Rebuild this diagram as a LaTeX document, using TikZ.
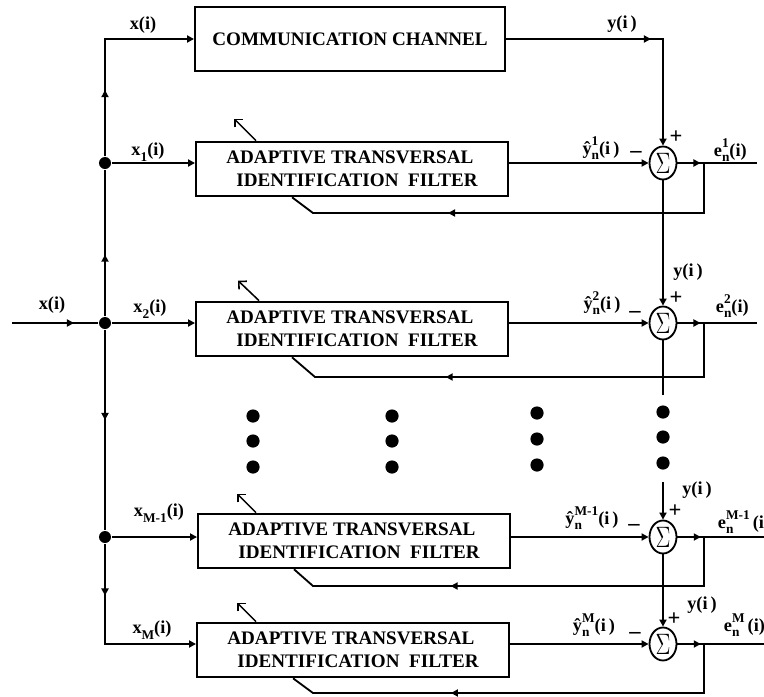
\documentclass[tikz,border=0pt]{standalone}
\usepackage{fontspec}
\setmainfont{Liberation Serif}
\usepackage{graphicx}
\usepackage{tikz}
\usetikzlibrary{arrows.meta,positioning,shapes.geometric,calc,decorations.markings}

% small indices, raised or lowered
\newcommand{\idxup}[1]{\raisebox{0.5em}{\fontsize{9.5}{10}\selectfont #1}}
\newcommand{\idxdn}[1]{\raisebox{-0.3em}{\fontsize{9.5}{10}\selectfont #1}}
% superscript over subscript, stacked
\newcommand{\supsub}[2]{%
  \setbox0=\hbox{\idxup{#1}}\setbox2=\hbox{\idxdn{#2}}%
  \ifdim\wd0>\wd2 \rlap{\copy2}\copy0 \else\rlap{\copy0}\copy2 \fi}
\newcommand{\sumsym}{\scalebox{1.25}[1.75]{$\Sigma$}}

\begin{document}
\begin{tikzpicture}[
    x=0.025cm, y=-0.025cm,
    line width=1.3pt,
    font=\fontsize{13}{15}\selectfont\bfseries,
    chanbox/.style={draw,minimum width=7.75cm,minimum height=1.6cm,
                    font=\fontsize{13.6}{16.4}\selectfont\bfseries},
    filt/.style={draw,minimum width=7.8cm,minimum height=1.37cm,align=left,
                 font=\fontsize{13.6}{16.4}\selectfont\bfseries},
    sumnode/.style={draw,ellipse,inner sep=0pt,minimum width=0.675cm,
                    minimum height=0.825cm},
    junc/.style={circle,fill,inner sep=0pt,minimum size=0.3cm},
    bigdot/.style={circle,fill,inner sep=0pt,minimum size=0.33cm},
    sign/.style={font=\fontsize{16}{16}\selectfont\bfseries,inner sep=0pt},
    arr/.style={-{Triangle[length=5pt,width=5pt]}},
    midarr/.style={postaction={decorate},decoration={markings,
        mark=at position #1 with {\arrow{Triangle[length=5pt,width=5pt]}}}},
    adapt/.style={line width=1.1pt,-{Straight Barb[length=4pt,width=8pt]}},
  ]
  \useasboundingbox (0,0) rectangle (764,697);

  % blocks
  \node[chanbox] (chan) at (350,39) {COMMUNICATION CHANNEL};
  \node[filt] (f1) at (352,169) {ADAPTIVE TRANSVERSAL\\\hspace*{0.25cm}IDENTIFICATION\ \ FILTER};
  \node[filt] (f2) at (352,329) {ADAPTIVE TRANSVERSAL\\\hspace*{0.25cm}IDENTIFICATION\ \ FILTER};
  \node[filt] (f3) at (354,541) {ADAPTIVE TRANSVERSAL\\\hspace*{0.25cm}IDENTIFICATION\ \ FILTER};
  \node[filt] (f4) at (353,650) {ADAPTIVE TRANSVERSAL\\\hspace*{0.25cm}IDENTIFICATION\ \ FILTER};

  \node[sumnode] (s1) at (663,163) {\sumsym};
  \node[sumnode] (s2) at (663,323) {\sumsym};
  \node[sumnode] (s3) at (663,537) {\sumsym};
  \node[sumnode] (s4) at (663,644) {\sumsym};

  % input bus
  \node[junc] (j1) at (105,163) {};
  \node[junc] (j2) at (105,323) {};
  \node[junc] (j3) at (105,537) {};
  \coordinate (top) at (105,39);
  \coordinate (bot) at (105,644);
  \coordinate (in) at (12,323);

  \draw[midarr=0.72] (in) -- (j2);
  \draw[midarr=0.42] (j2) -- (j1);
  \draw[midarr=0.32,arr] (j1) -- (top) -- (chan.west);
  \draw[midarr=0.45] (j2) -- (j3);
  \draw[midarr=0.27,arr] (j3) -- (bot) -- (f4.west |- bot);
  \draw[arr] (j1) -- (j1 -| f1.west);
  \draw[arr] (j2) -- (j2 -| f2.west);
  \draw[arr] (j3) -- (j3 -| f3.west);

  % desired signal
  \draw[midarr=0.55,arr] (chan.east) -| (s1.north);
  \draw[arr] (s1.south) -- (s2.north);
  \coordinate (d2) at (663,395);
  \coordinate (d3) at (663,482);
  \draw (s2.south) -- (d2);
  \draw[arr] (d3) -- (s3.north);
  \draw[arr] (s3.south) -- (s4.north);

  % filter outputs
  \draw[arr] (s1 -| f1.east) -- (s1.west);
  \draw[arr] (s2 -| f2.east) -- (s2.west);
  \draw[arr] (s3 -| f3.east) -- (s3.west);
  \draw[arr] (s4 -| f4.east) -- (s4.west);

  % errors and feedback
  \coordinate (o1) at (757,163);  \coordinate (b1) at (704,163);
  \coordinate (o2) at (757,323);  \coordinate (b2) at (704,323);
  \coordinate (o3) at (764,537);  \coordinate (b3) at (704,537);
  \coordinate (o4) at (764,644);  \coordinate (b4) at (704,644);
  \draw[midarr=0.29] (s1.east) -- (o1);
  \draw[midarr=0.29] (s2.east) -- (o2);
  \draw[midarr=0.27] (s3.east) -- (o3);
  \draw[midarr=0.27] (s4.east) -- (o4);
  \draw[midarr=0.655] (b1) -- ++(0,50) -- ++(-391,0) -- ([xshift=2.425cm]f1.south west);
  \draw[midarr=0.66] (b2) -- ++(0,54) -- ++(-389,0) -- ([xshift=2.425cm]f2.south west);
  \draw[midarr=0.65] (b3) -- ++(0,49) -- ++(-391,0) -- ([xshift=2.425cm]f3.south west);
  \draw[midarr=0.65] (b4) -- ++(0,49) -- ++(-391,0) -- ([xshift=2.425cm]f4.south west);

  % adaptation arrows
  \draw[adapt] ([xshift=1.525cm]f1.north west) -- ++(-22,-22);
  \draw[adapt] ([xshift=1.6cm]f2.north west) -- ++(-21,-20);
  \draw[adapt] ([xshift=1.475cm]f3.north west) -- ++(-19,-19);
  \draw[adapt] ([xshift=1.5cm]f4.north west) -- ++(-19,-19);

  % continuation dots
  \node[bigdot] (da1) at (253,416) {}; \node[bigdot] (da2) at (253,441) {}; \node[bigdot] (da3) at (253,467) {};
  \node[bigdot] (db1) at (392,416) {}; \node[bigdot] (db2) at (392,441) {}; \node[bigdot] (db3) at (392,467) {};
  \node[bigdot] (dc1) at (537,413) {}; \node[bigdot] (dc2) at (537,439) {}; \node[bigdot] (dc3) at (537,465) {};
  \node[bigdot] (dd1) at (663,412) {}; \node[bigdot] (dd2) at (663,437) {}; \node[bigdot] (dd3) at (663,463) {};

  % labels
  \node (lx) at (143,25) {x(i)};
  \node (lxin) at (52,305) {x(i)};
  \node (lx1) at (148,152) {x\idxdn{1}(i)};
  \node (lx2) at (150,309) {x\idxdn{2}(i)};
  \node (lx3) at (159,513) {x\idxdn{M-1}(i)};
  \node (lx4) at (152,630) {x\idxdn{M}(i)};

  \node (ly1) at (622,24) {y(i\,)};
  \node (ly2) at (688,272) {y(i\,)};
  \node (ly3) at (697,490) {y(i\,)};
  \node (ly4) at (702,605) {y(i\,)};

  \node (lh1) at (601,148) {\^{y}\supsub{1}{n}(i\,)};
  \node (lh2) at (602,303) {\^{y}\supsub{2}{n}(i\,)};
  \node (lh3) at (592,518) {\^{y}\supsub{M-1}{n}(i\,)};
  \node (lh4) at (594,625) {\^{y}\supsub{M}{n}(i\,)};

  \node[sign] (lm1) at (636,154) {--};  \node[sign] (lp1) at (676,137) {+};
  \node[sign] (lm2) at (635,314) {--};  \node[sign] (lp2) at (676,298) {+};
  \node[sign] (lm3) at (634,527) {--};  \node[sign] (lp3) at (675,511) {+};
  \node[sign] (lm4) at (635,635) {--};  \node[sign] (lp4) at (674,619) {+};

  \node[anchor=west,inner sep=0pt] (le1) at (713,150) {e\supsub{1}{n}(i)};
  \node[anchor=west,inner sep=0pt] (le2) at (715,306) {e\supsub{2}{n}(i)};
  \node[anchor=west,inner sep=0pt] (le3) at (717,522) {e\supsub{M-1}{n}\,(i)};
  \node[anchor=west,inner sep=0pt] (le4) at (723,625) {e\supsub{M}{n}\,(i)};
\end{tikzpicture}
\end{document}
